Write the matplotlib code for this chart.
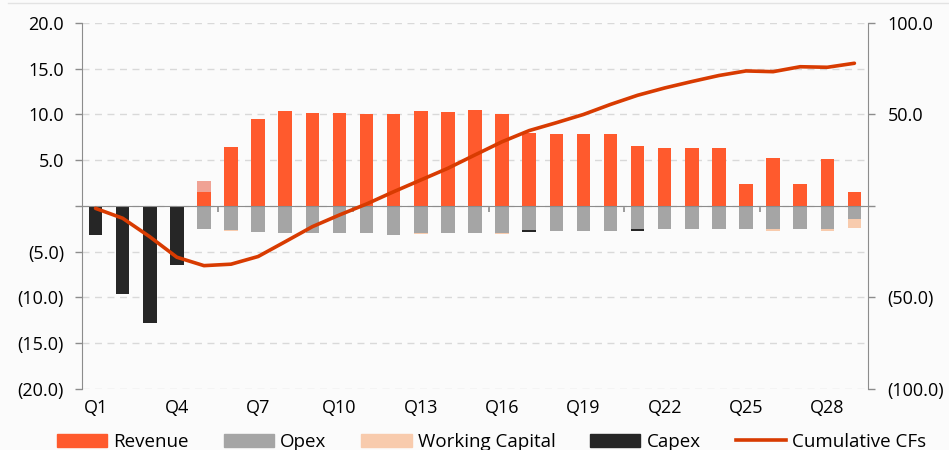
""" cash flow build-up per quarter: stacked components with the cumulative CF line
"""

import numpy as np
import matplotlib
matplotlib.use("Agg")
import matplotlib.pyplot as plt
from matplotlib.lines import Line2D
from matplotlib.ticker import FuncFormatter

plt.rcParams['font.family'] = ['Open Sans', 'DejaVu Sans']

quarters = ["Q%d" % i for i in range(1, 30)]

# components (left axis)
revenue = [0, 0, 0, 0, 1.5, 6.5, 9.5, 10.4, 10.2, 10.2, 10.1, 10.0, 10.4, 10.3, 10.5,
           10.0, 8.0, 7.9, 7.9, 7.9, 6.55, 6.3, 6.3, 6.3, 2.4, 5.2, 2.4, 5.1, 1.55]
opex = [0, 0, 0, 0, -2.5, -2.6, -2.8, -2.9, -3.0, -3.0, -3.0, -3.2, -2.9, -2.9, -2.9,
        -3.0, -2.6, -2.7, -2.7, -2.7, -2.55, -2.5, -2.5, -2.5, -2.5, -2.5, -2.5, -2.5, -1.45]
working_capital = [0, 0, 0, 0, 1.2, -0.15, 0, 0, 0, 0, 0, 0, -0.15, 0, 0,
                   -0.1, 0, 0, 0, 0, 0, 0, 0, 0, 0, -0.2, 0, -0.2, -0.95]
capex = [-3.2, -9.6, -12.8, -6.4, 0, 0, 0, 0, 0, 0, 0, 0, 0, 0, 0,
         0, -0.2, 0, 0, 0, -0.2, 0, 0, 0, 0, 0, 0, 0, 0]

# cumulative CFs (right axis)
cumulative = [-1.3, -6.7, -16.8, -28.0, -32.6, -31.8, -27.6, -19.5, -11.3, -4.9, 1.1, 7.8,
              14.2, 20.6, 27.9, 35.1, 41.2, 45.5, 50.0, 55.5, 60.5, 64.5, 68.0, 71.3,
              73.8, 73.4, 76.1, 75.8, 78.0]

c_rev = '#FF5A2D'
c_opex = '#A5A5A5'
c_wc = '#F8CBAD'
c_wc_pos = '#F0A294'
c_capex = '#262626'
c_line = '#D83B01'
c_axis = '#8C8C8C'
bg = '#FBFBFB'

x = np.arange(len(quarters))
rev = np.array(revenue)
op = np.array(opex)
wc = np.array(working_capital)
cx = np.array(capex)

fig = plt.figure(figsize=(9.49, 4.5), dpi=100, facecolor=bg)
ax = fig.add_axes([0.0864, 0.1356, 0.8282, 0.8133])
ax.set_facecolor(bg)

w = 0.5
ax.bar(x, rev, w, color=c_rev, label='Revenue', zorder=2)
ax.bar(x, op, w, color=c_opex, label='Opex', zorder=2)
# working capital sits on top of revenue when positive, under opex when negative
wc_bottom = np.where(wc > 0, rev, op)
wc_colors = [c_wc_pos if v > 0 else c_wc for v in working_capital]
ax.bar(x, wc, w, bottom=wc_bottom, color=wc_colors, zorder=2)
ax.bar(x, cx, w, bottom=op + np.minimum(wc, 0), color=c_capex, label='Capex', zorder=2)

ax.set_xlim(-0.5, len(quarters) - 0.5)
ax.set_ylim(-20, 20)
ax.set_yticks(np.arange(-20, 21, 5))
fmt = lambda v, p: '' if v == 0 else ('(%.1f)' % abs(v) if v < 0 else '%.1f' % v)
ax.yaxis.set_major_formatter(FuncFormatter(fmt))
ax.yaxis.grid(True, color='#D9D9D9', linestyle=(0, (5, 4)), linewidth=1)
ax.set_axisbelow(True)

for s in ['top', 'right']:
    ax.spines[s].set_visible(False)
ax.spines['left'].set_color(c_axis)
ax.spines['bottom'].set_color(c_axis)
ax.spines['bottom'].set_position(('data', 0))
ax.spines['bottom'].set_zorder(3)
ax.tick_params(axis='y', colors=c_axis, labelcolor='black', length=5, width=1,
               labelsize=13, pad=8)
# category axis: boundary ticks on the zero line, labels at the bottom
ax.set_xticks(np.arange(4.5, len(quarters), 5))
ax.tick_params(axis='x', colors=c_axis, length=4, width=1.2, labelbottom=False)
sec = ax.secondary_xaxis('bottom')
sec.set_xticks(x[::3], [quarters[i] for i in x[::3]])
sec.tick_params(length=0, labelsize=13, pad=7)
sec.spines['bottom'].set_visible(False)

ax2 = ax.twinx()
ax2.plot(x, cumulative, color=c_line, lw=2.6, label='Cumulative CFs', zorder=4,
         solid_joinstyle='round', solid_capstyle='round')
ax2.set_ylim(-100, 100)
ax2.set_yticks(np.arange(-100, 101, 50))
ax2.yaxis.set_major_formatter(FuncFormatter(fmt))
for s in ['top', 'left', 'bottom']:
    ax2.spines[s].set_visible(False)
ax2.spines['right'].set_color(c_axis)
ax2.tick_params(axis='y', colors=c_axis, labelcolor='black', length=5, width=1,
                labelsize=13, pad=9)

# legend along the bottom edge
handles = [plt.Rectangle((0, 0), 1, 1, color=c) for c in [c_rev, c_opex, c_wc, c_capex]]
handles.append(Line2D([], [], color=c_line, lw=2.6))
labels = ['Revenue', 'Opex', 'Working Capital', 'Capex', 'Cumulative CFs']
fig.legend(handles, labels, loc='center', bbox_to_anchor=(0.518, 0.018), ncol=5,
           frameon=False, fontsize=13.5, handlelength=2.67, handleheight=0.65,
           handletextpad=0.32, columnspacing=1.87)

fig.add_artist(Line2D([0.008, 1.0], [0.994, 0.994], color='#E3E3E3', lw=1))

plt.savefig('out.png', dpi=100, facecolor=bg)
